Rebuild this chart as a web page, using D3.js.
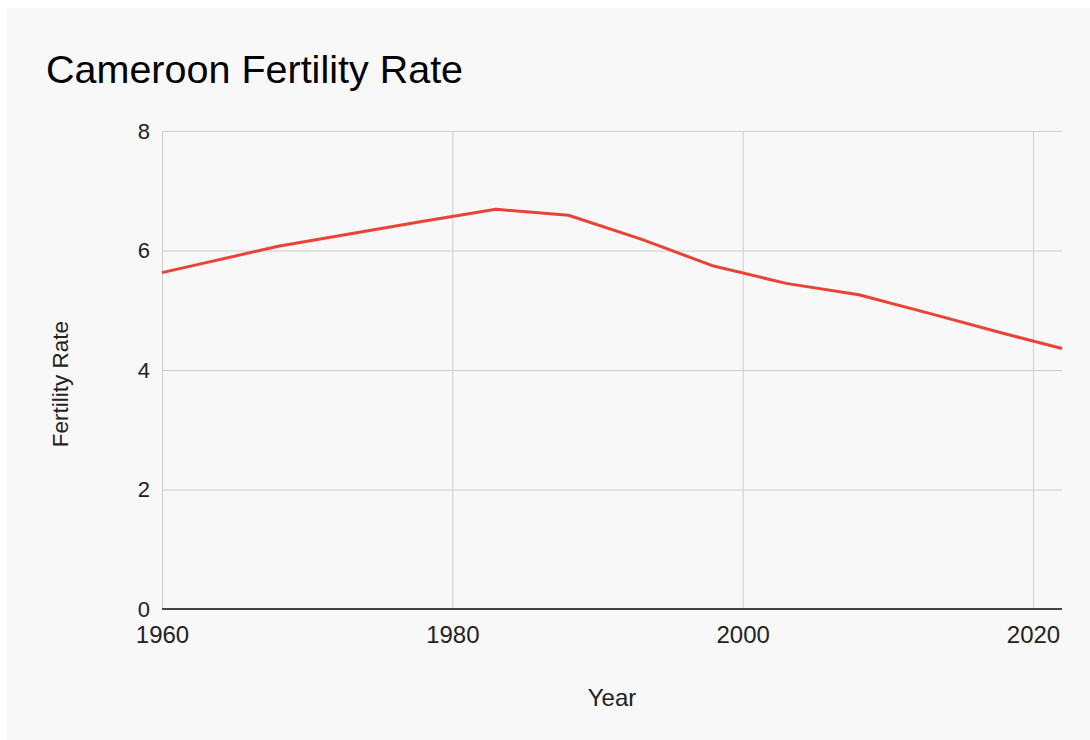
<!DOCTYPE html>
<html>
<head>
<meta charset="utf-8">
<script src="https://cdn.jsdelivr.net/npm/d3@7"></script>
<style>
  html, body { margin: 0; padding: 0; background: #ffffff; }
  svg { display: block; }
  text { font-family: "Liberation Sans", Arial, sans-serif; }
</style>
</head>
<body>
<svg id="chart" width="1090" height="740"></svg>
<script>
// Cameroon total fertility rate (births per woman)
const years = [1960, 1968, 1973, 1978, 1983, 1988, 1993, 1998, 2003, 2008, 2013, 2018, 2022];
const fertility = [5.63, 6.07, 6.28, 6.49, 6.69, 6.59, 6.19, 5.74, 5.45, 5.26, 4.94, 4.61, 4.36];
const xTicks = [1960, 1980, 2000, 2020];
const yTicks = [0, 2, 4, 6, 8];

const svg = d3.select("#chart");
const W = 1090, H = 740;
const margin = { left: 162, right: 28, top: 131, bottom: 131 };

// chart panel
svg.append("rect")
  .attr("x", 7).attr("y", 8)
  .attr("width", W - 7).attr("height", H - 8)
  .attr("fill", "#f8f8f8");

const x = d3.scaleLinear().domain([1960, 2022]).range([margin.left, W - margin.right]);
const y = d3.scaleLinear().domain([0, 8]).range([H - margin.bottom, margin.top]);

// horizontal gridlines + y labels
const yAxis = svg.append("g")
  .attr("transform", `translate(${margin.left},0)`)
  .call(d3.axisLeft(y).tickValues(yTicks).tickFormat(d3.format("d"))
        .tickSize(-(W - margin.right - margin.left)).tickPadding(12));
yAxis.select(".domain").remove();
yAxis.selectAll(".tick line").attr("stroke", "#cccccc").attr("stroke-width", 1);
yAxis.selectAll(".tick text")
  .attr("fill", "#222").attr("font-size", 22)
  .attr("font-family", "'Liberation Sans', Arial, sans-serif");

// vertical gridlines + x labels
const xAxis = svg.append("g")
  .attr("transform", `translate(0,${H - margin.bottom})`)
  .call(d3.axisBottom(x).tickValues(xTicks).tickFormat(d3.format("d"))
        .tickSize(-(H - margin.bottom - margin.top)).tickPadding(17));
xAxis.select(".domain").remove();
xAxis.selectAll(".tick line").attr("stroke", "#cccccc").attr("stroke-width", 1);
xAxis.selectAll(".tick text")
  .attr("fill", "#222").attr("font-size", 24)
  .attr("font-family", "'Liberation Sans', Arial, sans-serif");

// baseline
svg.append("line")
  .attr("x1", x(1960)).attr("x2", x(2022))
  .attr("y1", y(0)).attr("y2", y(0))
  .attr("stroke", "#444").attr("stroke-width", 2);

// fertility line
const pts = years.map((yr, i) => [yr, fertility[i]]);
svg.append("path")
  .datum(pts)
  .attr("fill", "none")
  .attr("stroke", "#ea4335")
  .attr("stroke-width", 3)
  .attr("stroke-linejoin", "round")
  .attr("d", d3.line().x(d => x(d[0])).y(d => y(d[1])));

// title
svg.append("text")
  .attr("x", 46).attr("y", 83)
  .attr("font-size", 39.5)
  .attr("fill", "#000")
  .text("Cameroon Fertility Rate");

// axis titles
svg.append("text")
  .attr("x", x(1991)).attr("y", 706)
  .attr("text-anchor", "middle")
  .attr("font-size", 24)
  .attr("fill", "#222")
  .text("Year");

svg.append("text")
  .attr("transform", `translate(68,384) rotate(-90)`)
  .attr("text-anchor", "middle")
  .attr("font-size", 22.5)
  .attr("fill", "#222")
  .text("Fertility Rate");
</script>
</body>
</html>
